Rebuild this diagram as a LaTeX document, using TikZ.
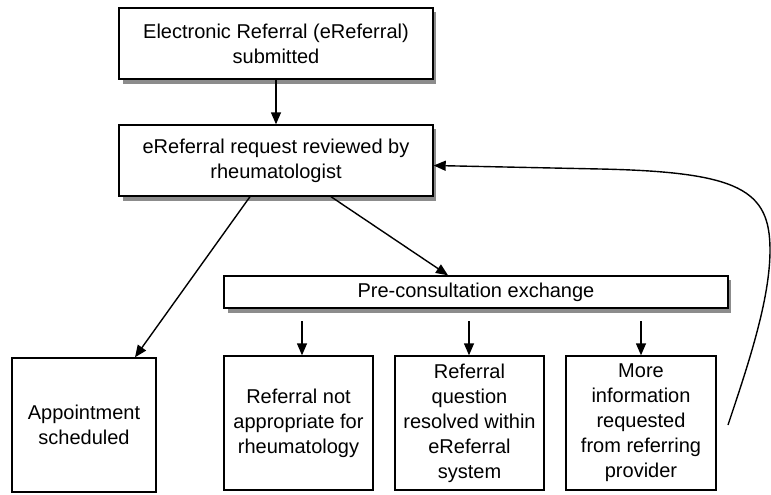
\documentclass[tikz,border=0pt]{standalone}
\usepackage{fontspec}
\setmainfont{Liberation Sans}
\usetikzlibrary{arrows.meta,calc}
\begin{document}
\begin{tikzpicture}[x=1pt,y=-1pt,
  box/.style={draw=black, line width=1.4pt, fill=white, align=center, inner sep=2pt,
    font=\fontsize{20}{25}\selectfont},
  shadowfill/.style={fill=black!45},
  arr/.style={line width=1.4pt, -{Triangle[length=12pt,width=10pt]}}]
\fill[white] (0,0) rectangle (771,495);
\useasboundingbox (0,0) rectangle (771,495);
\fill[shadowfill] (123,12) rectangle (436,84);
\fill[shadowfill] (123,129) rectangle (436,201);
\fill[shadowfill] (228,280) rectangle (731,313);
\node[box, minimum width=314pt, minimum height=71pt] (top) at (276,43.5) {Electronic Referral (eReferral)\\submitted};
\node[box, minimum width=314pt, minimum height=71pt] (rev) at (276,160.5) {eReferral request reviewed by\\rheumatologist};
\node[box, minimum width=504pt, minimum height=32pt] (pc) at (476,292) {Pre-consultation exchange};
\node[box, minimum width=144pt, minimum height=134pt] (appt) at (84,425) {Appointment\\scheduled};
\node[box, minimum width=149pt, minimum height=134pt] (b1) at (298.5,423) {Referral not\\appropriate for\\rheumatology};
\node[box, minimum width=149pt, minimum height=134pt] (b2) at (469.5,423) {Referral\\question\\resolved within\\eReferral\\system};
\node[box, minimum width=150pt, minimum height=134pt] (b3) at (641,423) {More\\information\\requested\\from referring\\provider};
\draw[arr] (top) -- (rev);
\draw[arr] ($(rev.south)+(-26,0)$) -- ($(appt.north)+(51,0)$);
\draw[arr] ($(rev.south)+(55,0)$) -- ($(pc.north)+(-28,0)$);
\coordinate (s1) at (302,321);
\coordinate (s2) at (469,321);
\coordinate (s3) at (641,321);
\draw[arr] (s1) -- (s1 |- b1.north);
\draw[arr] (s2) -- (s2 |- b2.north);
\draw[arr] (s3) -- (s3 |- b3.north);
\coordinate (fb) at (728,425);
\draw[arr] (fb) .. controls (748,365) and (770,300) .. (770,250)
  .. controls (770,190) and (740,172) .. (600,169) -- ($(rev.east)+(0,5)$);
\end{tikzpicture}
\end{document}
